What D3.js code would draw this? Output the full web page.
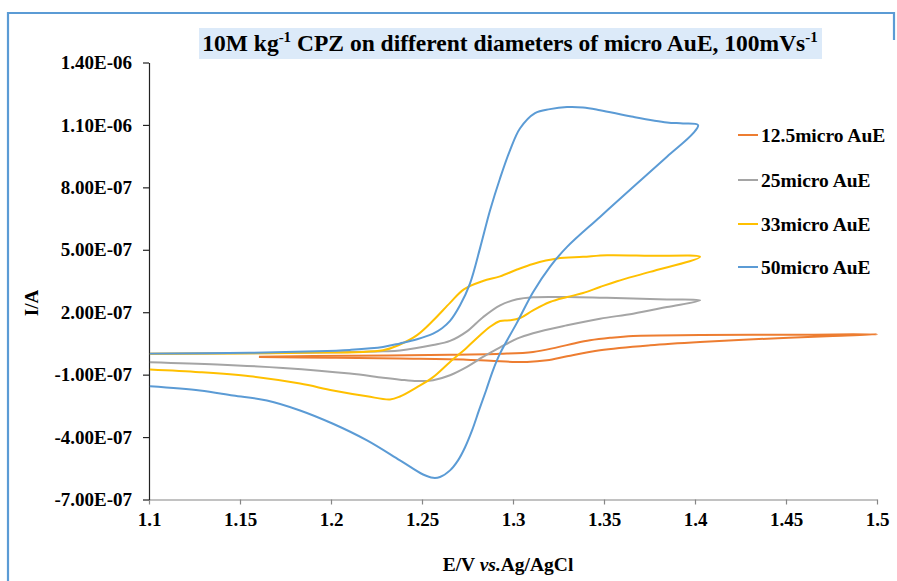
<!DOCTYPE html>
<html>
<head>
<meta charset="utf-8">
<script src="https://cdn.jsdelivr.net/npm/d3@7"></script>
<style>
  html, body { margin: 0; padding: 0; background: #fff; }
  svg { display: block; }
  text { font-family: "Liberation Serif", "Times New Roman", serif; font-weight: bold; fill: #000; }
</style>
</head>
<body>
<svg id="chart" width="897" height="581"></svg>
<script>
// Cyclic voltammograms of CPZ at gold micro-electrodes of four diameters.
// Potentials in V vs. Ag/AgCl, currents in A; each array runs forward scan then reverse scan.

const seriesNames = ["12.5micro AuE", "25micro AuE", "33micro AuE", "50micro AuE"];
const seriesColors = ["#ED7D31", "#A5A5A5", "#FFC000", "#5B9BD5"];

const E_12_5 = [1.1604, 1.2104, 1.2654, 1.2929, 1.3110, 1.3242, 1.3341, 1.3423, 1.3533, 1.3660, 1.4028, 1.4577, 1.5000,
                1.4759, 1.4396, 1.4028, 1.3753, 1.3478, 1.3297, 1.3187, 1.3077, 1.2929, 1.2747, 1.2379, 1.1995, 1.1604];
const I_12_5 = [-0.14e-7, -0.09e-7, -0.05e-7, 0.00e-7, 0.09e-7, 0.31e-7, 0.51e-7, 0.65e-7, 0.77e-7, 0.86e-7, 0.90e-7, 0.92e-7, 0.94e-7,
                0.86e-7, 0.73e-7, 0.57e-7, 0.41e-7, 0.17e-7, -0.12e-7, -0.31e-7, -0.39e-7, -0.36e-7, -0.28e-7, -0.23e-7, -0.19e-7, -0.15e-7];

const E_25 = [1.1005, 1.1830, 1.2286, 1.2379, 1.2561, 1.2654, 1.2747, 1.2835, 1.2929, 1.3022, 1.3110, 1.3297, 1.3478, 1.3660, 1.3846, 1.4028,
              1.3846, 1.3660, 1.3478, 1.3297, 1.3110, 1.3022, 1.2929, 1.2835, 1.2747, 1.2654, 1.2561, 1.2473, 1.2379, 1.2286, 1.2104, 1.1736, 1.1374, 1.1005];
const I_25 = [0.00e-7, 0.05e-7, 0.12e-7, 0.16e-7, 0.42e-7, 0.62e-7, 1.08e-7, 1.76e-7, 2.33e-7, 2.62e-7, 2.72e-7, 2.73e-7, 2.70e-7, 2.66e-7, 2.61e-7, 2.57e-7,
              2.25e-7, 1.93e-7, 1.69e-7, 1.37e-7, 0.99e-7, 0.73e-7, 0.31e-7, -0.15e-7, -0.63e-7, -1.03e-7, -1.27e-7, -1.31e-7, -1.24e-7, -1.15e-7, -0.95e-7, -0.68e-7, -0.51e-7, -0.40e-7];

const E_33 = [1.1005, 1.1830, 1.2286, 1.2379, 1.2473, 1.2561, 1.2654, 1.2730, 1.2835, 1.2929, 1.3022, 1.3110, 1.3242, 1.3385, 1.3517, 1.3753, 1.4028,
              1.3753, 1.3572, 1.3478, 1.3385, 1.3297, 1.3203, 1.3110, 1.3039, 1.2984, 1.2929, 1.2874, 1.2819, 1.2747, 1.2654, 1.2561, 1.2473, 1.2379, 1.2324, 1.2198, 1.2011, 1.1830, 1.1555, 1.1280, 1.1005];
const I_33 = [0.01e-7, 0.05e-7, 0.17e-7, 0.45e-7, 0.90e-7, 1.60e-7, 2.45e-7, 3.10e-7, 3.50e-7, 3.72e-7, 4.05e-7, 4.32e-7, 4.58e-7, 4.66e-7, 4.74e-7, 4.71e-7, 4.66e-7,
              3.94e-7, 3.49e-7, 3.21e-7, 2.92e-7, 2.73e-7, 2.49e-7, 2.09e-7, 1.72e-7, 1.61e-7, 1.58e-7, 1.30e-7, 0.89e-7, 0.31e-7, -0.39e-7, -1.12e-7, -1.60e-7, -2.05e-7, -2.19e-7, -2.04e-7, -1.76e-7, -1.43e-7, -1.08e-7, -0.88e-7, -0.75e-7];

const E_50 = [1.1005, 1.1555, 1.1923, 1.2104, 1.2286, 1.2379, 1.2473, 1.2561, 1.2610, 1.2654, 1.2709, 1.2764, 1.2819, 1.2874, 1.2929, 1.2984, 1.3039, 1.3121, 1.3203, 1.3297, 1.3385, 1.3478, 1.3660, 1.3846, 1.3934, 1.4017,
              1.3989, 1.3846, 1.3660, 1.3478, 1.3297, 1.3203, 1.3110, 1.3022, 1.2929, 1.2890, 1.2852, 1.2813, 1.2775, 1.2736, 1.2698, 1.2654, 1.2599, 1.2561, 1.2506, 1.2379, 1.2198, 1.2011, 1.1830, 1.1648, 1.1462, 1.1280, 1.1005];
const I_50 = [0.01e-7, 0.05e-7, 0.12e-7, 0.19e-7, 0.33e-7, 0.50e-7, 0.70e-7, 0.97e-7, 1.23e-7, 1.58e-7, 2.33e-7, 3.39e-7, 5.08e-7, 6.90e-7, 8.44e-7, 9.79e-7, 10.84e-7, 11.57e-7, 11.76e-7, 11.86e-7, 11.84e-7, 11.71e-7, 11.39e-7, 11.12e-7, 11.07e-7, 10.99e-7,
              10.59e-7, 9.47e-7, 8.02e-7, 6.58e-7, 5.14e-7, 4.18e-7, 2.96e-7, 1.50e-7, 0.02e-7, -0.79e-7, -1.76e-7, -2.72e-7, -3.68e-7, -4.50e-7, -5.12e-7, -5.60e-7, -5.92e-7, -5.96e-7, -5.80e-7, -5.12e-7, -4.16e-7, -3.36e-7, -2.72e-7, -2.24e-7, -2.00e-7, -1.76e-7, -1.56e-7];

const xTicks = [1.1, 1.15, 1.2, 1.25, 1.3, 1.35, 1.4, 1.45, 1.5];
const xTickLabels = ["1.1", "1.15", "1.2", "1.25", "1.3", "1.35", "1.4", "1.45", "1.5"];
const yTicks = [-7e-7, -4e-7, -1e-7, 2e-7, 5e-7, 8e-7, 1.1e-6, 1.4e-6];
const yTickLabels = ["-7.00E-07", "-4.00E-07", "-1.00E-07", "2.00E-07", "5.00E-07", "8.00E-07", "1.10E-06", "1.40E-06"];

const seriesE = [E_12_5, E_25, E_33, E_50];
const seriesI = [I_12_5, I_25, I_33, I_50];

const svg = d3.select("#chart");
const plot = { left: 149, right: 877, top: 62.5, bottom: 499.5 };

const x = d3.scaleLinear().domain([1.1, 1.5]).range([plot.left, plot.right]);
const y = d3.scaleLinear().domain([-7e-7, 1.4e-6]).range([plot.bottom, plot.top]);

// outer frame of the chart object
svg.append("path")
  .attr("d", "M8,600 L8,13 L894,13 L894,40")
  .attr("fill", "none")
  .attr("stroke", "#5B9BD5")
  .attr("stroke-width", 2.2);

// title with shaded band
svg.append("rect")
  .attr("x", 199).attr("y", 28).attr("width", 623).attr("height", 31)
  .attr("fill", "#DCEAF9");
const title = svg.append("text")
  .attr("x", 510).attr("y", 51)
  .attr("text-anchor", "middle")
  .style("font-size", "23.5px");
title.append("tspan").text("10M kg");
title.append("tspan").attr("dy", -9).style("font-size", "15px").text("-1");
title.append("tspan").attr("dy", 9).text(" CPZ on different diameters of micro AuE, 100mVs");
title.append("tspan").attr("dy", -9).style("font-size", "15px").text("-1");

// axes
const xAxis = d3.axisBottom(x)
  .tickValues(xTicks)
  .tickFormat((d, i) => xTickLabels[i])
  .tickSize(5)
  .tickPadding(8)
  .tickSizeOuter(0);
const gx = svg.append("g")
  .attr("transform", `translate(0,${plot.bottom})`)
  .call(xAxis);
gx.select(".domain").attr("stroke", "#868686").attr("stroke-width", 1.2);
gx.selectAll(".tick line").attr("stroke", "#868686").attr("stroke-width", 1.2);
gx.selectAll(".tick text").style("font-size", "19px");

const yAxis = d3.axisLeft(y)
  .tickValues(yTicks)
  .tickFormat((d, i) => yTickLabels[i])
  .tickSize(6)
  .tickPadding(11)
  .tickSizeOuter(0);
const gy = svg.append("g")
  .attr("transform", `translate(${plot.left},0)`)
  .call(yAxis);
gy.select(".domain").attr("stroke", "#222").attr("stroke-width", 1.2);
gy.selectAll(".tick line").attr("stroke", "#222").attr("stroke-width", 1.2);
gy.selectAll(".tick text").style("font-size", "19px");

// axis titles
svg.append("text")
  .attr("transform", "translate(38,303) rotate(-90)")
  .attr("text-anchor", "middle")
  .style("font-size", "19px")
  .text("I/A");

const xt = svg.append("text")
  .attr("x", 508).attr("y", 571)
  .attr("text-anchor", "middle")
  .style("font-size", "19.5px");
xt.append("tspan").text("E/V ");
xt.append("tspan").style("font-style", "italic").text("vs.");
xt.append("tspan").text("Ag/AgCl");

// voltammograms
const line = d3.line()
  .x(d => x(d[0]))
  .y(d => y(d[1]))
  .curve(d3.curveCatmullRom.alpha(0.5));

seriesNames.forEach((name, k) => {
  const pts = seriesE[k].map((e, i) => [e, seriesI[k][i]]);
  svg.append("path")
    .datum(pts)
    .attr("d", line)
    .attr("fill", "none")
    .attr("stroke", seriesColors[k])
    .attr("stroke-width", 2)
    .attr("stroke-linejoin", "round");
});

// legend
const legendRows = [135, 180, 224, 267];
seriesNames.forEach((name, k) => {
  const g = svg.append("g").attr("transform", `translate(738,${legendRows[k]})`);
  g.append("line").attr("x1", 0).attr("x2", 20).attr("y1", 0).attr("y2", 0)
    .attr("stroke", seriesColors[k]).attr("stroke-width", 2);
  g.append("text").attr("x", 23).attr("y", 6.5)
    .style("font-size", "19.5px")
    .text(name);
});
</script>
</body>
</html>
